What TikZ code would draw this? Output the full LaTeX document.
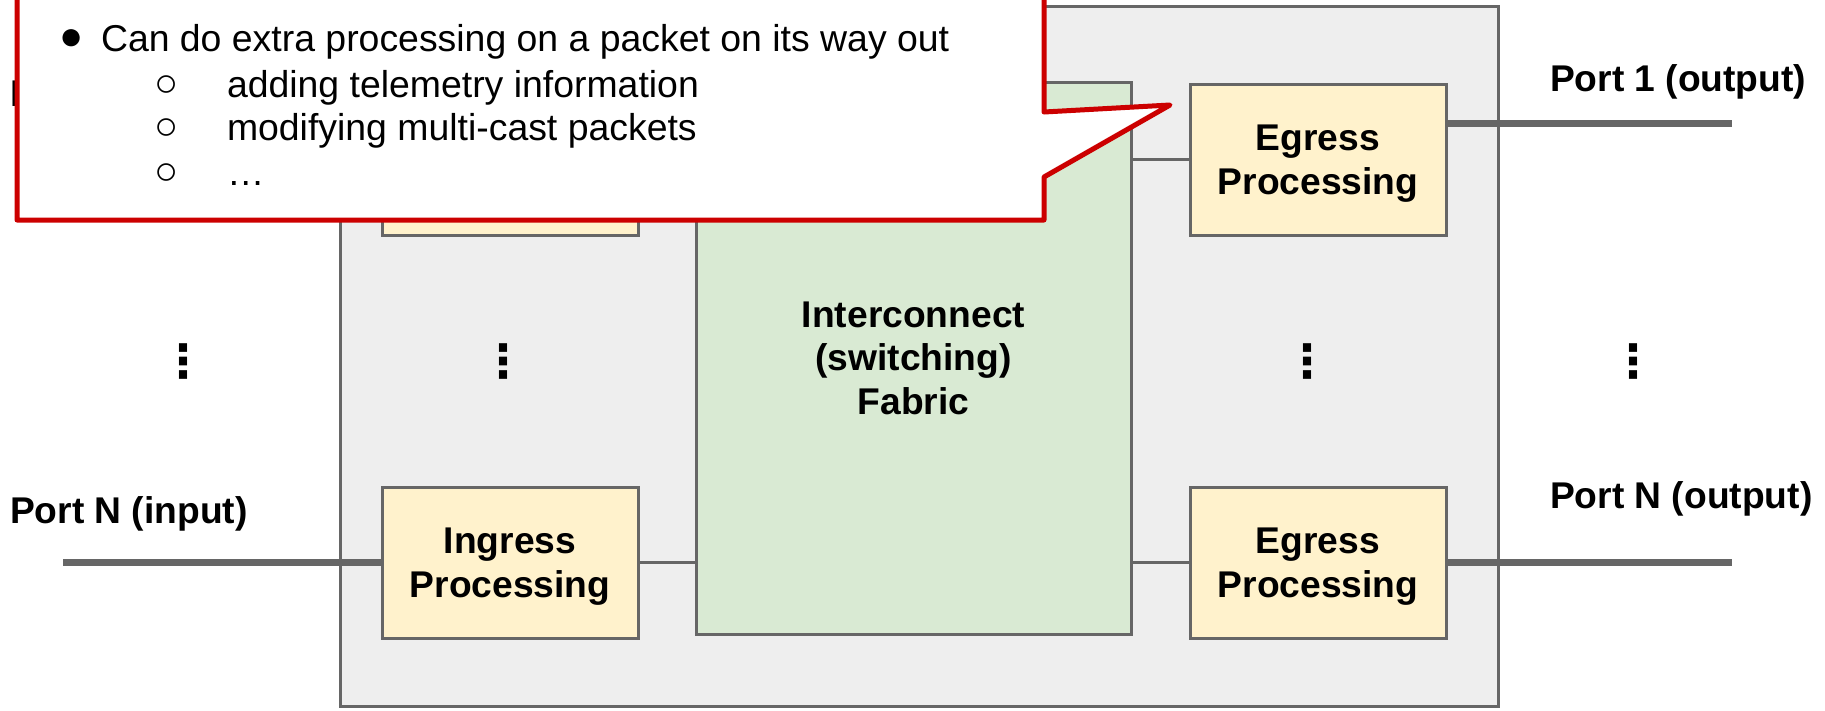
\documentclass[tikz,border=0pt]{standalone}
\usepackage{fontspec}
\setmainfont{Liberation Sans}
\newfontfamily\symfont{DejaVu Sans}
\definecolor{edge}{HTML}{666666}
\definecolor{chassis}{HTML}{EEEEEE}
\definecolor{stagefill}{HTML}{FFF2CC}
\definecolor{fabricfill}{HTML}{D9EAD3}
\definecolor{alert}{HTML}{CC0000}
\begin{document}
\begin{tikzpicture}[x=1pt,y=-1pt,
  every node/.style={inner sep=0pt, outer sep=0pt},
  bigtext/.style={font=\bfseries\fontsize{37.2}{43.5}\selectfont},
  block/.style={draw=edge, line width=3pt, anchor=north west, align=center, bigtext},
  stage/.style={block, fill=stagefill, minimum width=256pt, minimum height=151pt,
                text depth=0pt},
  wire/.style={draw=edge, line width=3pt},
  port/.style={draw=edge, line width=7pt},
  portlabel/.style={anchor=base west, bigtext},
  vdots/.style={font=\symfont\bfseries\fontsize{46}{46}\selectfont},
  callout/.style={draw=alert, fill=white, line width=5pt, line join=round},
  note/.style={anchor=base west, font=\fontsize{37.4}{44}\selectfont},
  bulletglyph/.style={font=\fontsize{40}{40}\selectfont}
]
\useasboundingbox (0,0) rectangle (1825,710);

% switch chassis
\node[draw=edge, fill=chassis, line width=3pt, anchor=north west,
      minimum width=1158pt, minimum height=700pt] (switch) at (340,6) {};

% pipeline stages and fabric
\node[stage] (ing1) at (382,84) {};
\node[stage] (ingN) at (382,487) {Ingress\\Processing};
\node[block, fill=fabricfill, minimum width=435pt, minimum height=552pt]
      (fabric) at (696,82) {Interconnect\\(switching)\\Fabric};
\node[stage] (eg1) at (1190,84) {Egress\\Processing};
\node[stage] (egN) at (1190,487) {Egress\\Processing};

% stage-to-fabric links
\draw[wire] (ing1.east) -- (ing1.east -| fabric.west);
\draw[wire] (ingN.east) -- (ingN.east -| fabric.west);
\draw[wire] (fabric.east |- eg1.west) -- (eg1.west);
\draw[wire] (fabric.east |- egN.west) -- (egN.west);

% external ports
\coordinate (p1in) at (63,159.5);
\coordinate (pNin) at (63,562.5);
\coordinate (p1out) at (1732,123);
\coordinate (pNout) at (1732,562.5);
\draw[port] (p1in) -- (ing1.west);
\draw[port] (pNin) -- (ingN.west);
\draw[port] (eg1.east |- p1out) -- (p1out);
\draw[port] (egN.east) -- (pNout);

\node[portlabel] (l1in) at (10,106) {Port 1 (input)};
\node[portlabel] (lNin) at (10,523) {Port N (input)};
\node[portlabel] (l1out) at (1550,91) {Port 1 (output)};
\node[portlabel] (lNout) at (1550,508) {Port N (output)};

% elided ports
\node[vdots] (d1) at (183,362) {⋮};
\node[vdots] (d2) at (503,362) {⋮};
\node[vdots] (d3) at (1307,362) {⋮};
\node[vdots] (d4) at (1633,362) {⋮};

% egress note
\draw[callout] (17,-20) -- (1044,-20) -- (1044,112) -- (1170,105)
  -- (1044,177) -- (1044,220) -- (17,220) -- cycle;
\node[bulletglyph] (b0) at (72,40) {●};
\node[note] (t0) at (101,51) {Can do extra processing on a packet on its way out};
\node[bulletglyph] (b1) at (167,86) {○};
\node[note] (t1) at (227,97) {adding telemetry information};
\node[bulletglyph] (b2) at (167,129) {○};
\node[note] (t2) at (227,140) {modifying multi-cast packets};
\node[bulletglyph] (b3) at (167,174) {○};
\node[note] (t3) at (227,185) {…};
\end{tikzpicture}
\end{document}
